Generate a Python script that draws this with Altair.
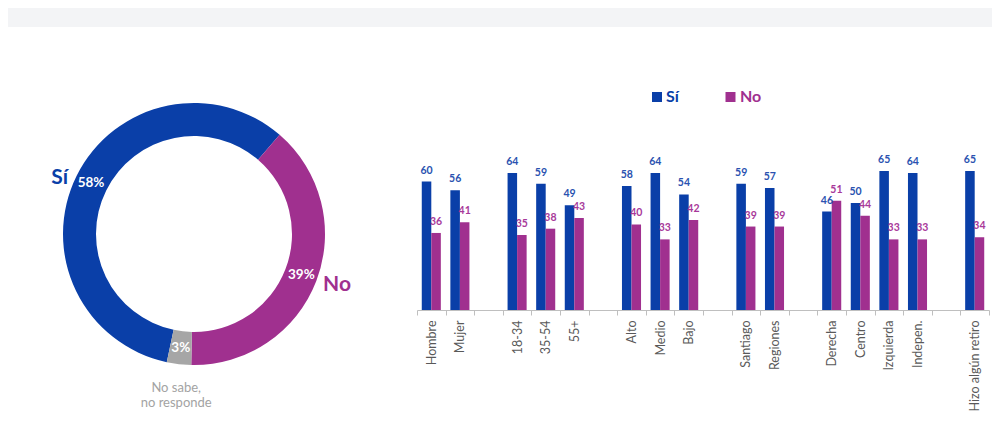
import math
import altair as alt
import pandas as pd

# ---------------- datos ----------------
categorias = ["Hombre", "Mujer", "18-34", "35-54", "55+", "Alto", "Medio", "Bajo",
              "Santiago", "Regiones", "Derecha", "Centro", "Izquierda", "Indepen.",
              "Hizo algún retiro"]
si = [60, 56, 64, 59, 49, 58, 64, 54, 59, 57, 46, 50, 65, 64, 65]
no = [36, 41, 35, 38, 43, 40, 33, 42, 39, 39, 51, 44, 33, 33, 34]

# orden del eje (con separadores vacíos entre grupos)
eje = ["Hombre", "Mujer", " ", "18-34", "35-54", "55+", "  ", "Alto", "Medio", "Bajo",
       "   ", "Santiago", "Regiones", "    ", "Derecha", "Centro", "Izquierda",
       "Indepen.", "     ", "Hizo algún retiro"]

respuestas_torta = ["Sí", "No", "No sabe, no responde"]
porcentajes_torta = [58, 39, 3]

leyenda = ["Sí", "No"]

# ---------------- estilos ----------------
AZUL = "#0A3FA8"
MAGENTA = "#A0308F"
GRIS = "#A6A6A6"
AZUL_TXT = "#2A52B0"
MAGENTA_TXT = "#A8399A"
FUENTE = "Lato"

barras_df = pd.DataFrame({
    "categoria": categorias * 2,
    "respuesta": ["Sí"] * len(categorias) + ["No"] * len(categorias),
    "valor": si + no,
})
torta_df = pd.DataFrame({"respuesta": respuestas_torta, "pct": porcentajes_torta})
leyenda_df = pd.DataFrame({"respuesta": leyenda})

color_scale = alt.Scale(domain=respuestas_torta, range=[AZUL, MAGENTA, GRIS])

inicio = math.radians(192)
theta_scale = alt.Scale(domain=[0, 100], range=[inicio, inicio + 2 * math.pi])
CX, CY = 186, 226

# ---------------- banda superior ----------------
banda = alt.Chart(pd.DataFrame({"a": [0]})).mark_rect(color="#F3F4F6").encode(
    x=alt.value(0), x2=alt.value(984), y=alt.value(0), y2=alt.value(19)
)

# ---------------- barras ----------------
xenc = alt.X(
    "categoria:N",
    sort=eje,
    scale=alt.Scale(domain=eje, range=[409, 981], paddingInner=0, paddingOuter=0),
    axis=alt.Axis(
        title=None, labelAngle=-90, tickBand="extent", domainColor="#BFBFBF",
        tickColor="#BFBFBF", tickSize=5, labelColor="#595959", labelFont=FUENTE,
        labelFontSize=12.5, labelPadding=5, grid=False, labelOverlap=False,
    ),
)
xoff = alt.XOffset("respuesta:N", scale=alt.Scale(domain=["Sí", "No"], paddingInner=0, paddingOuter=0.5))
yenc = alt.Y("valor:Q", scale=alt.Scale(domain=[0, 70], range=[302, 152.2]), axis=None)

barras = alt.Chart(barras_df).mark_bar().encode(
    x=xenc, xOffset=xoff, y=yenc,
    color=alt.Color("respuesta:N", scale=color_scale, legend=None),
)

val_si = alt.Chart(barras_df).transform_filter("datum.respuesta == 'Sí'").mark_text(
    dy=-6, baseline="bottom", fontSize=10.5, fontWeight="bold", color=AZUL_TXT, font=FUENTE
).encode(x=xenc, xOffset=xoff, y=yenc, text="valor:Q")

val_no = alt.Chart(barras_df).transform_filter("datum.respuesta == 'No'").mark_text(
    dy=-6, baseline="bottom", fontSize=10.5, fontWeight="bold", color=MAGENTA_TXT, font=FUENTE
).encode(x=xenc, xOffset=xoff, y=yenc, text="valor:Q")

# ---------------- anillo ----------------
base_torta = alt.Chart(torta_df).transform_calculate(
    idx="indexof(['Sí','No','No sabe, no responde'], datum.respuesta)"
).transform_window(
    fin="sum(pct)", sort=[alt.SortField("idx", order="ascending")]
).transform_calculate(
    ini="datum.fin - datum.pct",
    mid="datum.fin - datum.pct / 2",
    etiqueta="datum.pct + '%'",
    nombre="replace(datum.respuesta, ', ', ',\\n')",
)

anillo = base_torta.mark_arc(innerRadius=98, outerRadius=131).encode(
    theta=alt.Theta("ini:Q", scale=theta_scale, stack=False),
    theta2="fin:Q",
    color=alt.Color("respuesta:N", scale=color_scale, legend=None),
    x=alt.value(CX), y=alt.value(CY),
)

pct_txt = base_torta.mark_text(
    radius=115, font=FUENTE, fontSize=13.5, fontWeight="bold", color="white"
).encode(
    theta=alt.Theta("mid:Q", scale=theta_scale, stack=False),
    text="etiqueta:N", x=alt.value(CX), y=alt.value(CY),
)

lbl_si = base_torta.transform_filter("datum.respuesta == 'Sí'").mark_text(
    radius=150, dy=11, font=FUENTE, fontSize=21, fontWeight="bold", color=AZUL
).encode(
    theta=alt.Theta("mid:Q", scale=theta_scale, stack=False),
    text="nombre:N", x=alt.value(CX), y=alt.value(CY),
)

lbl_no = base_torta.transform_filter("datum.respuesta == 'No'").mark_text(
    radius=150, dx=3, dy=-3, font=FUENTE, fontSize=21, fontWeight="bold", color=MAGENTA
).encode(
    theta=alt.Theta("mid:Q", scale=theta_scale, stack=False),
    text="nombre:N", x=alt.value(CX), y=alt.value(CY),
)

lbl_ns = base_torta.transform_filter("datum.respuesta == 'No sabe, no responde'").mark_text(
    radius=155, font=FUENTE, fontSize=13, color="#A3A3A3", lineBreak="\n", lineHeight=15
).encode(
    theta=alt.Theta("mid:Q", scale=theta_scale, stack=False),
    text="nombre:N", x=alt.value(CX), y=alt.value(CY),
)

# ---------------- leyenda ----------------
ley_base = alt.Chart(leyenda_df)
ley_sq_si = ley_base.transform_filter("datum.respuesta == 'Sí'").mark_square(
    size=100, color=AZUL, opacity=1
).encode(x=alt.value(649), y=alt.value(89))
ley_tx_si = ley_base.transform_filter("datum.respuesta == 'Sí'").mark_text(
    align="left", baseline="middle", font=FUENTE, fontSize=16, fontWeight="bold", color=AZUL
).encode(x=alt.value(658), y=alt.value(89), text="respuesta:N")
ley_sq_no = ley_base.transform_filter("datum.respuesta == 'No'").mark_square(
    size=100, color=MAGENTA, opacity=1
).encode(x=alt.value(722.5), y=alt.value(89))
ley_tx_no = ley_base.transform_filter("datum.respuesta == 'No'").mark_text(
    align="left", baseline="middle", font=FUENTE, fontSize=16, fontWeight="bold", color=MAGENTA
).encode(x=alt.value(732), y=alt.value(89), text="respuesta:N")

chart = alt.layer(
    banda, barras, val_si, val_no, anillo, pct_txt, lbl_si, lbl_no, lbl_ns,
    ley_sq_si, ley_tx_si, ley_sq_no, ley_tx_no,
).properties(
    width=984, height=302,
    padding={"left": 0, "top": 0, "right": 0, "bottom": 130},
    autosize=alt.AutoSizeParams(type="none"),
    background="white",
).configure_view(strokeWidth=0)

chart.save("out.html", embed_options={"renderer": "svg", "actions": False})
